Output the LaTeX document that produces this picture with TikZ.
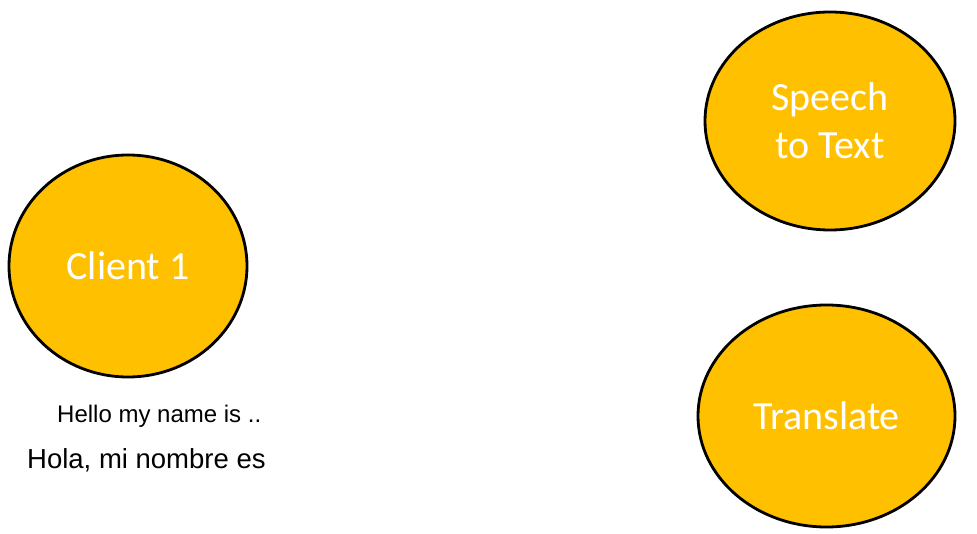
\documentclass[tikz,border=0pt]{standalone}
\usepackage{fontspec}
\setmainfont{Liberation Sans}
\newfontfamily\calfont{Carlito}
\usetikzlibrary{shapes.geometric}
\definecolor{gold}{HTML}{FFC000}
\tikzset{
  bubble/.style={ellipse, draw=black, line width=2.8pt, fill=gold, text=white,
    inner sep=0pt, align=center,
    font=\calfont\fontsize{40}{48}\selectfont},
  caption/.style={text=black, inner sep=0pt, anchor=base west}
}
\begin{document}
\begin{tikzpicture}[x=1pt,y=-1pt]
\useasboundingbox[fill=white] (0,0) rectangle (977,534);
\node[bubble, minimum width=238pt, minimum height=222pt] (client) at (128,266) {Client 1};
\node[bubble, minimum width=250pt, minimum height=218pt] (stt) at (830,121) {Speech\\to Text};
\node[bubble, minimum width=257pt, minimum height=222pt] (translate) at (826.5,416) {Translate};
\node[caption, font=\fontsize{24}{28}\selectfont] (en) at (57,422) {Hello my name is ..};
\node[caption, font=\fontsize{27.5}{32}\selectfont] (es) at (27,468) {Hola, mi nombre es};
\end{tikzpicture}
\end{document}
